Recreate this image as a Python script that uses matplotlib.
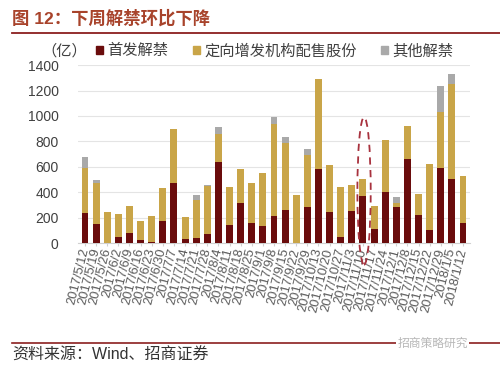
"""Weekly lifted-restriction share volumes (stacked bars)."""

import matplotlib

matplotlib.use("Agg")

import matplotlib.pyplot as plt
from matplotlib.lines import Line2D
from matplotlib.patches import Ellipse

plt.rcParams["font.family"] = ["Liberation Sans", "Noto Sans CJK SC"]

DARK_RED = "#6a0c0c"
GOLD = "#c9a548"
GREY = "#a9a9a9"
TITLE_RED = "#a8432b"
RULE_RED = "#8b1f1f"

weeks = [
    "2017/5/12", "2017/5/19", "2017/5/26", "2017/6/2", "2017/6/9", "2017/6/16",
    "2017/6/23", "2017/6/30", "2017/7/7", "2017/7/14", "2017/7/21", "2017/7/28",
    "2017/8/4", "2017/8/11", "2017/8/18", "2017/8/25", "2017/9/1", "2017/9/8",
    "2017/9/15", "2017/9/22", "2017/9/29", "2017/10/13", "2017/10/20",
    "2017/10/27", "2017/11/3", "2017/11/10", "2017/11/17", "2017/11/24",
    "2017/12/1", "2017/12/8", "2017/12/15", "2017/12/22", "2017/12/29",
    "2018/1/5", "2018/1/12",
]
ipo_unlock = [
    240, 150, 0, 47, 79, 26, 5, 170, 476, 29, 37, 73, 636, 144, 314, 157, 136,
    217, 262, 0, 283, 586, 243, 45, 254, 372, 110, 400, 283, 662, 223, 105,
    594, 505, 157,
]
placement_unlock = [
    350, 325, 243, 183, 209, 144, 210, 265, 419, 175, 303, 375, 223, 296, 267,
    319, 414, 720, 529, 380, 413, 702, 375, 400, 204, 133, 183, 412, 36, 257,
    164, 515, 435, 746, 367,
]
other_unlock = [
    85, 20, 0, 0, 0, 0, 0, 0, 0, 0, 42, 10, 52, 0, 0, 0, 0, 58, 47, 0, 42, 0,
    0, 0, 0, 0, 0, 0, 40, 0, 0, 0, 207, 76, 0,
]
highlight_week = "2017/11/10"

fig = plt.figure(figsize=(5.0, 3.7), dpi=100)
ax = fig.add_axes([0.156, 0.343, 0.784, 0.481])

x = list(range(len(weeks)))
bottom2 = [a + b for a, b in zip(ipo_unlock, placement_unlock)]
ax.bar(x, ipo_unlock, width=0.62, color=DARK_RED, zorder=3)
ax.bar(x, placement_unlock, width=0.62, bottom=ipo_unlock, color=GOLD, zorder=3)
ax.bar(x, other_unlock, width=0.62, bottom=bottom2, color=GREY, zorder=3)

ax.set_xlim(-0.63, len(weeks) - 0.37)
ax.set_ylim(0, 1400)
ax.set_yticks(range(0, 1401, 200))
ax.yaxis.grid(True, color="#e4e4e4", linewidth=0.8, zorder=0)
ax.tick_params(axis="y", length=0, labelsize=10, labelcolor="#404040", pad=14)
ax.tick_params(axis="x", length=2, color="#d0d0d0", labelsize=9.3,
               labelcolor="#5a5a5a", pad=2)
ax.set_xticks(x)
ax.set_xticklabels(weeks, rotation=76, ha="right", va="center",
                   rotation_mode="anchor")
for side in ("top", "right", "left"):
    ax.spines[side].set_visible(False)
ax.spines["bottom"].set_color("#d0d0d0")

hi = weeks.index(highlight_week)
ax.add_patch(Ellipse((hi + 0.1, 410), width=1.2, height=1160, fill=False,
                     linestyle=(0, (4, 3)), edgecolor="#a8323e", linewidth=1.3,
                     clip_on=False, zorder=4))

# header, legend and footer
fig.text(0.024, 0.951, "图 12：下周解禁环比下降", fontsize=12.5,
         fontweight="bold", color=TITLE_RED, va="center")
fig.add_artist(Line2D([0.024, 1.0], [0.91, 0.91], color=RULE_RED, lw=1.3))
fig.text(0.082, 0.862, "（亿）", fontsize=11, color="#404040", va="center")
handles = [
    plt.Rectangle((0, 0), 1, 1, color=DARK_RED),
    plt.Rectangle((0, 0), 1, 1, color=GOLD),
    plt.Rectangle((0, 0), 1, 1, color=GREY),
]
fig.legend(handles, ["首发解禁", "定向增发机构配售股份", "其他解禁"],
           loc="center left", bbox_to_anchor=(0.192, 0.862), ncol=3,
           frameon=False, fontsize=11, handlelength=0.45, handleheight=0.45,
           handletextpad=0.3, columnspacing=1.6, labelcolor="#404040",
           borderpad=0, borderaxespad=0)

fig.add_artist(Line2D([0.024, 1.0], [0.073, 0.073], color=RULE_RED, lw=1.2))
fig.text(0.024, 0.04, "资料来源：Wind、招商证券", fontsize=11.5, color="#333333",
         va="center")
fig.text(0.795, 0.072, "招商策略研究", fontsize=8.5, color="#b8b8b8",
         va="center", bbox=dict(facecolor="white", edgecolor="none", pad=1))

fig.savefig("out.png", dpi=100)
plt.close(fig)
